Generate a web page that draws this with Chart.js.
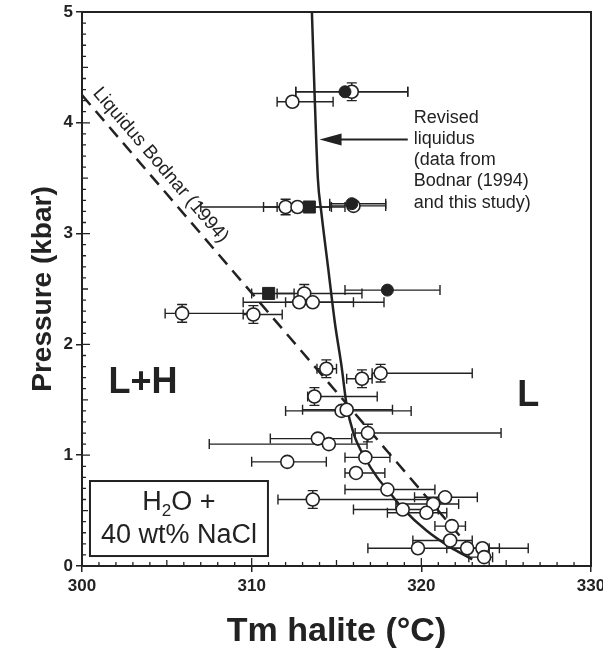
<!DOCTYPE html>
<html>
<head>
<meta charset="utf-8">
<script src="https://cdn.jsdelivr.net/npm/chart.js@4.4.0/dist/chart.umd.min.js"></script>
<style>
  html, body { margin: 0; padding: 0; background: #fff; }
</style>
</head>
<body>
<canvas id="tmChart" width="603" height="653"></canvas>
<script>
'use strict';

// open circles: temperature, pressure, error bar low / high, small pressure error
var openT  = [315.9, 312.4, 312.0, 312.7, 316.0, 313.1, 312.8, 313.6, 305.9, 310.1,
              314.4, 316.5, 317.6, 313.7, 315.3, 315.6, 316.85, 313.9, 314.55, 316.7,
              312.1, 316.15, 313.6, 318.0, 321.4, 320.7, 318.9, 320.3, 321.8, 321.7,
              322.7, 323.6, 323.7, 319.8];
var openP  = [4.28, 4.19, 3.24, 3.24, 3.25, 2.46, 2.38, 2.38, 2.28, 2.27,
              1.78, 1.69, 1.74, 1.53, 1.40, 1.41, 1.20, 1.15, 1.10, 0.98,
              0.94, 0.84, 0.60, 0.69, 0.62, 0.56, 0.51, 0.48, 0.36, 0.23,
              0.16, 0.16, 0.08, 0.16];
var openLo = [312.6, 311.5, 307.0, 310.7, 314.6, 311.5, 309.5, 312.0, 304.9, 309.5,
              313.85, 315.6, 317.1, 313.3, 312.0, 313.0, 316.1, 311.1, 307.5, 315.5,
              310.0, 315.5, 311.55, 315.5, 319.6, 318.5, 316.0, 318.0, 320.8, 319.5,
              321.5, 322.5, 322.8, 316.85];
var openHi = [319.2, 314.8, 313.5, 314.7, 317.9, 316.5, 317.8, 316.0, 310.1, 311.8,
              315.0, 317.1, 323.0, 317.4, 319.4, 318.3, 324.7, 315.9, 316.8, 318.15,
              314.4, 317.85, 321.1, 320.8, 323.3, 322.2, 321.0, 321.5, 322.6, 323.0,
              324.0, 324.6, 324.2, 326.3];
var openYe = [0.08, 0, 0.07, 0, 0, 0.08, 0, 0, 0.08, 0.08,
              0.08, 0.08, 0.08, 0.08, 0, 0, 0.08, 0, 0, 0,
              0, 0, 0.08, 0, 0, 0, 0, 0, 0, 0,
              0, 0, 0, 0];

// filled circles
var dotT  = [315.5, 315.9, 318.0];
var dotP  = [4.28, 3.27, 2.49];
var dotLo = [312.6, 314.6, 315.5];
var dotHi = [319.2, 317.9, 321.1];

// filled squares
var sqT  = [313.4, 311.0];
var sqP  = [3.24, 2.46];
var sqLo = [311.5, 310.0];
var sqHi = [315.5, 312.5];

// revised liquidus (solid)
var revT = [313.55, 313.7, 313.9, 314.1, 314.5, 314.9, 315.3, 315.6, 316.0, 316.7, 317.4, 318.1, 318.9, 320.3, 321.7, 323.0];
var revP = [5.0, 4.3, 3.5, 3.2, 2.7, 2.2, 1.8, 1.45, 1.2, 0.97, 0.8, 0.67, 0.52, 0.32, 0.17, 0.06];

// liquidus Bodnar (1994) (dashed)
var bodT = [300, 323.4];
var bodP = [4.25, 0.07];

var noteLines = ['Revised', 'liquidus', '(data from', 'Bodnar (1994)', 'and this study)'];

function pts(xs, ys) {
    return xs.map(function (x, i) { return {x: x, y: ys[i]}; });
}

var ink = '#222';
var sans = "'Liberation Sans', Arial, Helvetica, sans-serif";

var overlay = {
    id: 'overlay',
    beforeDatasetsDraw: function (chart) {
        var ctx = chart.ctx, sx = chart.scales.x, sy = chart.scales.y;
        ctx.save();
        ctx.strokeStyle = ink;
        ctx.lineWidth = 1.4;
        function bars(xs, ys, lo, hi, ye) {
            ys.forEach(function (p, i) {
                var y = sy.getPixelForValue(p);
                var a = sx.getPixelForValue(lo[i]), b = sx.getPixelForValue(hi[i]);
                ctx.beginPath();
                ctx.moveTo(a, y); ctx.lineTo(b, y);
                ctx.moveTo(a, y - 5); ctx.lineTo(a, y + 5);
                ctx.moveTo(b, y - 5); ctx.lineTo(b, y + 5);
                if (ye && ye[i]) {
                    var c = sx.getPixelForValue(xs[i]);
                    var t = sy.getPixelForValue(p + ye[i]), u = sy.getPixelForValue(p - ye[i]);
                    ctx.moveTo(c, t); ctx.lineTo(c, u);
                    ctx.moveTo(c - 5, t); ctx.lineTo(c + 5, t);
                    ctx.moveTo(c - 5, u); ctx.lineTo(c + 5, u);
                }
                ctx.stroke();
            });
        }
        bars(openT, openP, openLo, openHi, openYe);
        bars(dotT, dotP, dotLo, dotHi);
        bars(sqT, sqP, sqLo, sqHi);
        ctx.restore();
    },
    afterDraw: function (chart) {
        var ctx = chart.ctx, sx = chart.scales.x, sy = chart.scales.y, area = chart.chartArea;
        var X = function (v) { return sx.getPixelForValue(v); };
        var Y = function (v) { return sy.getPixelForValue(v); };
        ctx.save();
        ctx.strokeStyle = ink;
        ctx.fillStyle = ink;

        // frame
        ctx.lineWidth = 2;
        ctx.strokeRect(area.left, area.top, area.right - area.left, area.bottom - area.top);

        // inner minor ticks
        ctx.lineWidth = 1.3;
        ctx.beginPath();
        for (var i = 1; i < 50; i++) {
            var yy = Y(i / 10), len = (i % 10 === 0) ? 8 : (i % 5 === 0 ? 6 : 4);
            ctx.moveTo(area.left, yy); ctx.lineTo(area.left + len, yy);
        }
        for (var t = 301; t < 330; t++) {
            var xx = X(t), l2 = (t % 10 === 0) ? 8 : (t % 5 === 0 ? 6 : 4);
            ctx.moveTo(xx, area.bottom); ctx.lineTo(xx, area.bottom - l2);
        }
        ctx.stroke();

        // revised liquidus note + arrow
        ctx.font = '18px ' + sans;
        ctx.textAlign = 'left';
        ctx.textBaseline = 'middle';
        var noteY = [4.04, 3.85, 3.66, 3.47, 3.28];
        noteLines.forEach(function (s, k) { ctx.fillText(s, X(319.55), Y(noteY[k])); });
        var ay = Y(3.85), ax0 = X(319.2), ax1 = X(314.0);
        ctx.lineWidth = 2;
        ctx.beginPath(); ctx.moveTo(ax0, ay); ctx.lineTo(ax1 + 18, ay); ctx.stroke();
        ctx.beginPath();
        ctx.moveTo(ax1, ay); ctx.lineTo(ax1 + 22, ay - 6); ctx.lineTo(ax1 + 22, ay + 6);
        ctx.closePath(); ctx.fill();

        // Bodnar label along the dashed line
        var x0 = X(bodT[0]), y0 = Y(bodP[0]), x1 = X(bodT[1]), y1 = Y(bodP[1]);
        var ang = Math.atan2(y1 - y0, x1 - x0);
        var f = (304.0 - bodT[0]) / (bodT[1] - bodT[0]);
        var cx = x0 + f * (x1 - x0) + 14 * Math.sin(ang);
        var cy = y0 + f * (y1 - y0) - 14 * Math.cos(ang);
        ctx.save();
        ctx.translate(cx, cy);
        ctx.rotate(ang);
        ctx.font = '19px ' + sans;
        ctx.textAlign = 'center';
        ctx.fillText('Liquidus Bodnar (1994)', 0, 0);
        ctx.restore();

        // field labels
        ctx.font = 'bold 36px ' + sans;
        ctx.textAlign = 'center';
        ctx.fillText('L+H', X(303.6), Y(1.65));
        ctx.fillText('L', X(326.3), Y(1.53));

        // composition box
        var bl = X(300.47), br = X(310.96), bt = Y(0.767), bb = Y(0.09);
        ctx.fillStyle = '#fff';
        ctx.fillRect(bl, bt, br - bl, bb - bt);
        ctx.fillStyle = ink;
        ctx.lineWidth = 2;
        ctx.strokeRect(bl, bt, br - bl, bb - bt);
        var bc = (bl + br) / 2;
        ctx.font = '27px ' + sans;
        ctx.textAlign = 'left';
        var wH = ctx.measureText('H').width, wO = ctx.measureText('O +').width;
        ctx.font = '17px ' + sans;
        var w2 = ctx.measureText('2').width;
        var start = bc - (wH + w2 + wO) / 2, ly = bt + 22;
        ctx.font = '27px ' + sans;
        ctx.fillText('H', start, ly);
        ctx.fillText('O +', start + wH + w2, ly);
        ctx.font = '17px ' + sans;
        ctx.fillText('2', start + wH, ly + 8);
        ctx.font = '27px ' + sans;
        ctx.textAlign = 'center';
        ctx.fillText('40 wt% NaCl', bc, bt + 55);
        ctx.restore();
    }
};

var ctx = document.getElementById('tmChart').getContext('2d');
var chart = new Chart(ctx, {
    type: 'scatter',
    data: {
        datasets: [
            {label: 'filled', data: pts(dotT, dotP), pointStyle: 'circle', pointRadius: 6,
             backgroundColor: ink, borderColor: ink, borderWidth: 1},
            {label: 'squares', data: pts(sqT, sqP), pointStyle: 'rect', pointRadius: 8.5,
             backgroundColor: ink, borderColor: ink, borderWidth: 1},
            {label: 'open', data: pts(openT, openP), pointStyle: 'circle', pointRadius: 6.5,
             backgroundColor: '#fff', borderColor: ink, borderWidth: 1.6},
            {label: 'revised', type: 'line', data: pts(revT, revP), showLine: true,
             borderColor: ink, borderWidth: 2.5, pointRadius: 0, cubicInterpolationMode: 'monotone', fill: false},
            {label: 'bodnar', type: 'line', data: pts(bodT, bodP), showLine: true,
             borderColor: ink, borderWidth: 2.5, borderDash: [13, 8], pointRadius: 0, fill: false}
        ]
    },
    options: {
        responsive: false,
        animation: false,
        layout: {padding: {top: 12, right: 12, left: 0, bottom: 0}},
        plugins: {legend: {display: false}, tooltip: {enabled: false}},
        scales: {
            x: {
                type: 'linear', min: 300, max: 330,
                afterFit: function (s) { s.height = 87; s.paddingLeft = 0; s.paddingRight = 0; },
                ticks: {stepSize: 10, color: ink, padding: 4, maxRotation: 0,
                        font: {family: sans, size: 17, weight: 'bold'}},
                grid: {drawOnChartArea: false, tickLength: 6, color: ink, lineWidth: 1.5},
                border: {display: false},
                title: {display: true, text: 'Tm halite (°C)', color: ink,
                        font: {family: sans, size: 34, weight: 'bold'}, padding: {top: 0, bottom: 1}}
            },
            y: {
                type: 'linear', min: 0, max: 5,
                afterFit: function (s) { s.width = 82; s.paddingTop = 0; s.paddingBottom = 0; },
                ticks: {stepSize: 1, color: ink, padding: 3,
                        font: {family: sans, size: 17, weight: 'bold'}},
                grid: {drawOnChartArea: false, tickLength: 6, color: ink, lineWidth: 1.5},
                border: {display: false},
                title: {display: true, text: 'Pressure (kbar)', color: ink,
                        font: {family: sans, size: 28, weight: 'bold'}, padding: {top: 26, bottom: 0}}
            }
        }
    },
    plugins: [overlay]
});
</script>
</body>
</html>
